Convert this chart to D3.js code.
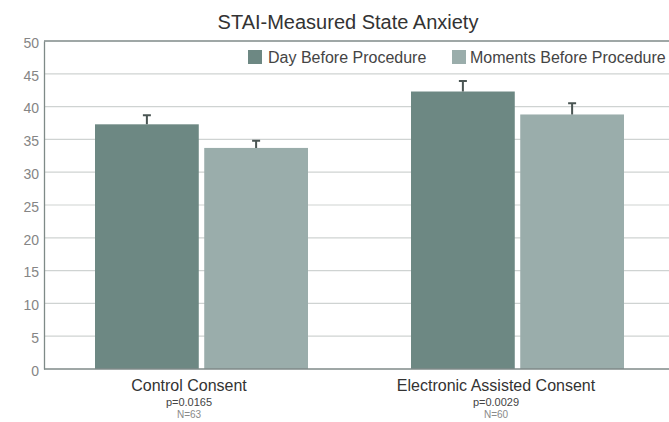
<!DOCTYPE html>
<html><head><meta charset="utf-8">
<script src="https://cdn.jsdelivr.net/npm/d3@7"></script>
<style>body{margin:0;background:#fff}svg{display:block}text{font-family:"Liberation Sans",Arial,sans-serif}</style>
</head><body><svg id="c" width="669" height="422"></svg>
<script>
const categories = ["Control Consent", "Electronic Assisted Consent"];
const pValues = ["p=0.0165", "p=0.0029"];
const nValues = ["N=63", "N=60"];
const series = ["Day Before Procedure", "Moments Before Procedure"];
const dayBefore = [37.3, 42.3];
const momentsBefore = [33.7, 38.8];
const dayErr = [1.4, 1.6];
const momentsErr = [1.1, 1.7];
const yTicks = [0, 5, 10, 15, 20, 25, 30, 35, 40, 45, 50];
const colors = ["#6d8883", "#9aadab"];

(function () {
const svg = d3.select("#c");
const pLeft = 44, pRight = 676, pTop = 41, pBottom = 369;
const y = d3.scaleLinear().domain([0, 50]).range([pBottom, pTop]);
const x0 = d3.scaleBand().domain(categories).range([pLeft, pRight]).paddingInner(0).paddingOuter(0);
const bw = x0.bandwidth();
const x1 = d3.scaleBand().domain(series).range([51, bw - 52]).paddingInner(0.05).paddingOuter(0);
const labelX = d3.scalePoint().domain(categories).range([189, 496]);

// grid
svg.append("g").selectAll("line").data(yTicks.filter(t => t > 0 && t < 50)).join("line")
  .attr("x1", pLeft).attr("x2", 669).attr("y1", d => y(d)).attr("y2", d => y(d))
  .attr("stroke", "#cfd3d2").attr("stroke-width", 1.2);
// top border
svg.append("line").attr("x1", pLeft).attr("x2", 669).attr("y1", y(50)).attr("y2", y(50))
  .attr("stroke", "#7f8a88").attr("stroke-width", 1.3);

// y axis
const yAxis = d3.axisLeft(y).tickValues(yTicks).tickSize(0).tickPadding(5);
const ga = svg.append("g").attr("transform", `translate(${pLeft},0)`).call(yAxis);
ga.select(".domain").attr("stroke", "#7f8a88").attr("stroke-width", 1.3);
ga.selectAll("text").attr("fill", "#858585").attr("dy", "0.45em").style("font-size", "14px");

// bars
const rows = categories.map((c, i) => ({c, vals: [
  {s: series[0], v: dayBefore[i], e: dayErr[i], k: 0},
  {s: series[1], v: momentsBefore[i], e: momentsErr[i], k: 1}]}));
const g = svg.append("g").selectAll("g").data(rows).join("g")
  .attr("transform", d => `translate(${x0(d.c)},0)`);
g.selectAll("rect").data(d => d.vals).join("rect")
  .attr("x", d => x1(d.s)).attr("width", x1.bandwidth())
  .attr("y", d => y(d.v)).attr("height", d => y(0) - y(d.v))
  .attr("fill", d => colors[d.k]);
// error bars
g.selectAll("path.err").data(d => d.vals).join("path").attr("class", "err")
  .attr("d", d => {
    const cx = x1(d.s) + x1.bandwidth() / 2;
    return `M${cx},${y(d.v)}V${y(d.v + d.e)}M${cx - 4},${y(d.v + d.e)}H${cx + 4}`;
  })
  .attr("stroke", "#4a5553").attr("stroke-width", 2).attr("fill", "none");

// x axis line
svg.append("line").attr("x1", pLeft).attr("x2", 669).attr("y1", pBottom).attr("y2", pBottom)
  .attr("stroke", "#7f8a88").attr("stroke-width", 1.5);

// legend
const lg = svg.append("g");
lg.append("rect").attr("x", 248).attr("y", 50).attr("width", 14).attr("height", 14).attr("fill", colors[0]);
lg.append("text").attr("x", 268).attr("y", 63).text(series[0]).attr("fill", "#444").style("font-size", "16px");
lg.append("rect").attr("x", 452).attr("y", 50).attr("width", 14).attr("height", 14).attr("fill", colors[1]);
lg.append("text").attr("x", 470).attr("y", 63).text(series[1]).attr("fill", "#444").style("font-size", "16px");

// title
svg.append("text").attr("x", 348).attr("y", 29).attr("text-anchor", "middle")
  .text("STAI-Measured State Anxiety").attr("fill", "#333").style("font-size", "20px");

// category labels
const cl = svg.append("g").selectAll("g").data(categories).join("g")
  .attr("transform", d => `translate(${labelX(d)},0)`);
cl.append("text").attr("y", 391).attr("text-anchor", "middle").text(d => d)
  .attr("fill", "#333").style("font-size", "16px");
cl.append("text").attr("y", 406).attr("text-anchor", "middle").text((d, i) => pValues[i])
  .attr("fill", "#444").style("font-size", "11px");
cl.append("text").attr("y", 418).attr("text-anchor", "middle").text((d, i) => nValues[i])
  .attr("fill", "#8a8a8a").style("font-size", "10px");
})();
</script></body></html>
